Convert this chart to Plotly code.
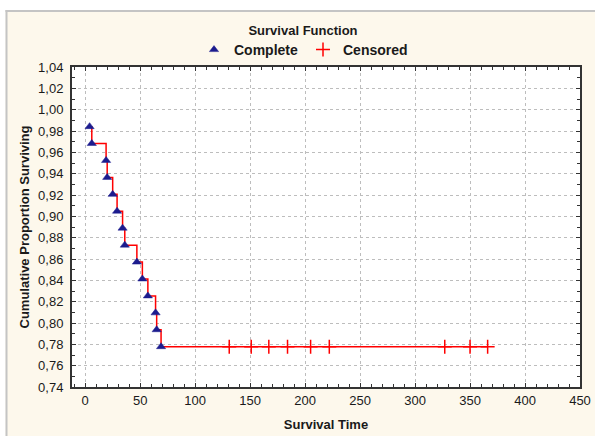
import plotly.graph_objects as go

# ---- data ----
event_times = [4, 6, 19, 20, 25, 29, 34, 36, 47, 52, 57, 64, 65, 69]
event_surv = [0.9841, 0.9683, 0.9524, 0.9365, 0.9206, 0.9048, 0.8889,
              0.8730, 0.8571, 0.8413, 0.8254, 0.8095, 0.7937, 0.7778]
censor_times = [131, 151, 167, 184, 205, 222, 327, 350, 366]
censor_surv = [0.7778] * len(censor_times)

x_ticks = [0, 50, 100, 150, 200, 250, 300, 350, 400, 450]
y_ticks = [0.74, 0.76, 0.78, 0.80, 0.82, 0.84, 0.86, 0.88, 0.90, 0.92,
           0.94, 0.96, 0.98, 1.00, 1.02, 1.04]

line_x = event_times + censor_times
line_y = event_surv + censor_surv

# ---- layout geometry (pixels) ----
W, H = 595, 436
L, R, T, B = 72, 580, 67, 387
FONT = "Liberation Sans, Arial, sans-serif"
CREAM = "#fdf8ec"
TXT = "#1a1a1a"


def px_x(p):
    return (p - L) / (R - L)


def px_y(p):
    return (B - p) / (B - T)


fig = go.Figure()

fig.add_trace(go.Scatter(
    x=line_x, y=line_y, mode="lines", line=dict(color="#ff0000", width=1.5, shape="hv"),
    showlegend=False, hoverinfo="skip"))

fig.add_trace(go.Scatter(
    x=event_times, y=event_surv, mode="markers", name="Complete",
    marker=dict(symbol="triangle-up", size=8, color="#1c1c8e",
                line=dict(color="#1c1c8e", width=0.5))))

fig.add_trace(go.Scatter(
    x=censor_times, y=censor_surv, mode="markers", name="Censored",
    marker=dict(symbol="cross-thin", size=10, color="#ff0000",
                line=dict(color="#ff0000", width=1.5))))

axis_common = dict(
    showline=True, linecolor="#333333", linewidth=2, mirror="ticks",
    ticks="inside", ticklen=4, tickcolor="#333333", tickwidth=1,
    showgrid=True, gridcolor="#bdbdbd", griddash="dot", gridwidth=1,
    zeroline=False, automargin=False,
    tickfont=dict(family=FONT, size=13, color=TXT),
)

fig.update_xaxes(
    range=[-12, 450], tickvals=x_ticks,
    minor=dict(dtick=10, tick0=0, ticks="inside", ticklen=3, tickcolor="#333333", showgrid=False),
    title=dict(text="<b>Survival Time</b>", font=dict(family=FONT, size=13, color=TXT), standoff=13),
    ticklabelstandoff=0,
    **axis_common)

fig.update_yaxes(
    range=[0.74, 1.04], tickvals=y_ticks, tickformat=".2f",
    minor=dict(dtick=0.01, tick0=0.74, ticks="inside", ticklen=3, tickcolor="#333333", showgrid=False),
    title=dict(text="<b>Cumulative Proportion Surviving</b>", font=dict(family=FONT, size=13, color=TXT), standoff=6),
    ticklabelstandoff=4,
    **axis_common)

shapes = [
    # white margin at top and left, outside the grey frame
    dict(type="rect", xref="paper", yref="paper", layer="below",
         x0=px_x(0), x1=px_x(W), y0=px_y(0), y1=px_y(10), fillcolor="white", line=dict(width=0)),
    dict(type="rect", xref="paper", yref="paper", layer="below",
         x0=px_x(0), x1=px_x(5.5), y0=px_y(0), y1=px_y(H), fillcolor="white", line=dict(width=0)),
    # grey frame lines
    dict(type="line", xref="paper", yref="paper", layer="below",
         x0=px_x(5.5), x1=px_x(W), y0=px_y(11), y1=px_y(11), line=dict(color="#c4c4c4", width=2)),
    dict(type="line", xref="paper", yref="paper", layer="below",
         x0=px_x(6.5), x1=px_x(6.5), y0=px_y(10), y1=px_y(H), line=dict(color="#c4c4c4", width=2)),
]

fig.update_layout(
    width=W, height=H,
    margin=dict(l=L, r=W - R, t=T, b=H - B, autoexpand=False),
    paper_bgcolor=CREAM, plot_bgcolor="white",
    separators=", ",
    font=dict(family=FONT, size=12, color=TXT),
    title=dict(text="<b>Survival Function</b>", x=303 / W, xanchor="center",
               y=1 - 30 / H, yanchor="middle", yref="container",
               font=dict(family=FONT, size=13, color=TXT)),
    legend=dict(orientation="h", x=px_x(194), xanchor="left", y=px_y(50), yanchor="middle",
                font=dict(family=FONT, size=14, color=TXT, weight="bold"), bgcolor="rgba(0,0,0,0)",
                itemwidth=30, tracegroupgap=0),
    shapes=shapes,
    showlegend=True,
)

fig.write_html("out.html", config={"displayModeBar": False},
               post_script="document.body.style.margin='0';")
